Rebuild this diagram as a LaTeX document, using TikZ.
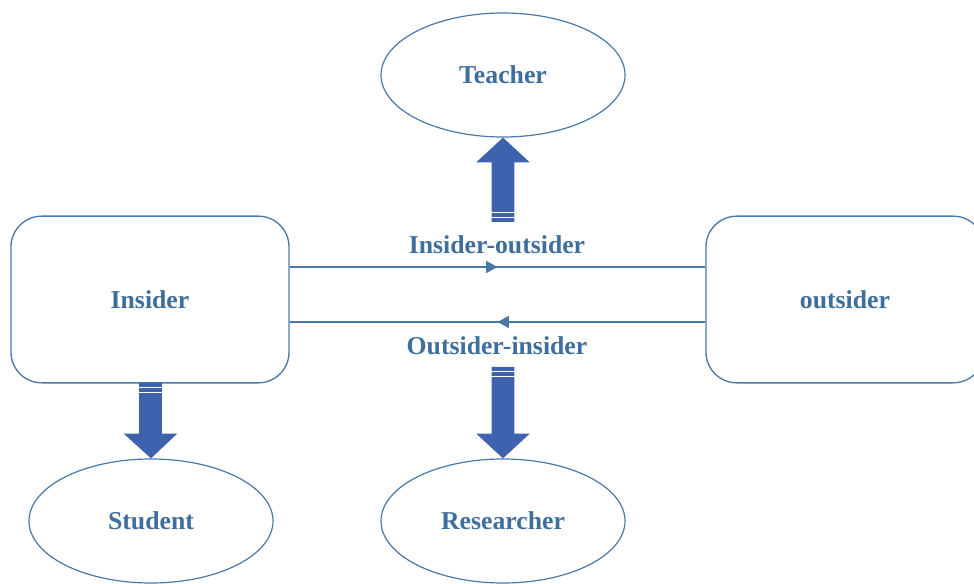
\documentclass[tikz,border=0pt]{standalone}
\usepackage{fontspec}
\setmainfont{Liberation Serif}
\usetikzlibrary{shapes.geometric,decorations.markings,arrows.meta,calc}

\definecolor{edgeblue}{HTML}{4A78A8}
\definecolor{textblue}{HTML}{3E6E9E}
\definecolor{fatblue}{HTML}{3F62AE}

\tikzset{
  every node/.style={font=\fontsize{19.3}{22}\selectfont\bfseries, text=textblue},
  roundbox/.style={draw=edgeblue, line width=1pt, rounded corners=23pt,
    minimum width=208.5pt, minimum height=125pt, inner sep=0pt},
  oval/.style={ellipse, draw=edgeblue, line width=0.9pt,
    minimum width=183pt, minimum height=93pt, inner sep=0pt},
  flowline/.style={draw=edgeblue, line width=1.1pt,
    postaction={decorate}, decoration={markings,
      mark=at position 0.5 with {\arrow{Triangle[length=8.5pt,width=9pt]}}}},
  lbl/.style={inner sep=0pt},
}

% thick block arrow with a striped tail
% #1 tail point, #2 tip point, #3 +1 for downward, -1 for upward
\newcommand{\blockarrow}[3]{%
  \path let \p1=#1, \p2=#2 in
    [fill=fatblue]
    (\x1-8.6pt,\y1) -- (\x1+8.6pt,\y1) -- (\x1+8.6pt,\y2+#3*18.5pt)
    -- (\x1+20pt,\y2+#3*18.5pt) -- (\x2,\y2) -- (\x1-20pt,\y2+#3*18.5pt)
    -- (\x1-8.6pt,\y2+#3*18.5pt) -- cycle;
  \path let \p1=#1 in
    [draw=white, line width=0.8pt]
    (\x1-9pt,\y1-#3*3.6pt) -- (\x1+9pt,\y1-#3*3.6pt)
    (\x1-9pt,\y1-#3*6.9pt) -- (\x1+9pt,\y1-#3*6.9pt);
}

\begin{document}
\begin{tikzpicture}[x=0.75pt, y=-0.75pt]
  \useasboundingbox (0,0) rectangle (974,584);

  % role boxes
  \node[roundbox] (insider) at (150,299.5) {Insider};
  \node[roundbox] (outsider) at (845,299.5) {outsider};

  % ellipses
  \node[oval] (teacher) at (503,75) {Teacher};
  \node[oval] (student) at (151,521) {Student};
  \node[oval] (researcher) at (503,521) {Researcher};

  % horizontal connectors
  \path[flowline] (insider.east |- 0,267) -- (outsider.west |- 0,267);
  \path[flowline] (outsider.west |- 0,322) -- (insider.east |- 0,322);

  % connector labels
  \node[lbl, anchor=base] (io) at (497,254) {Insider-outsider};
  \node[lbl, anchor=base] (oi) at (497,354) {Outsider-insider};

  % block arrows
  \coordinate (tA) at (503,222);
  \coordinate (sA) at (150.5,383);
  \coordinate (rA) at (503,367);
  \blockarrow{(tA)}{(teacher.south)}{-1}
  \blockarrow{(sA)}{(student.north)}{1}
  \blockarrow{(rA)}{(researcher.north)}{1}
\end{tikzpicture}
\end{document}
